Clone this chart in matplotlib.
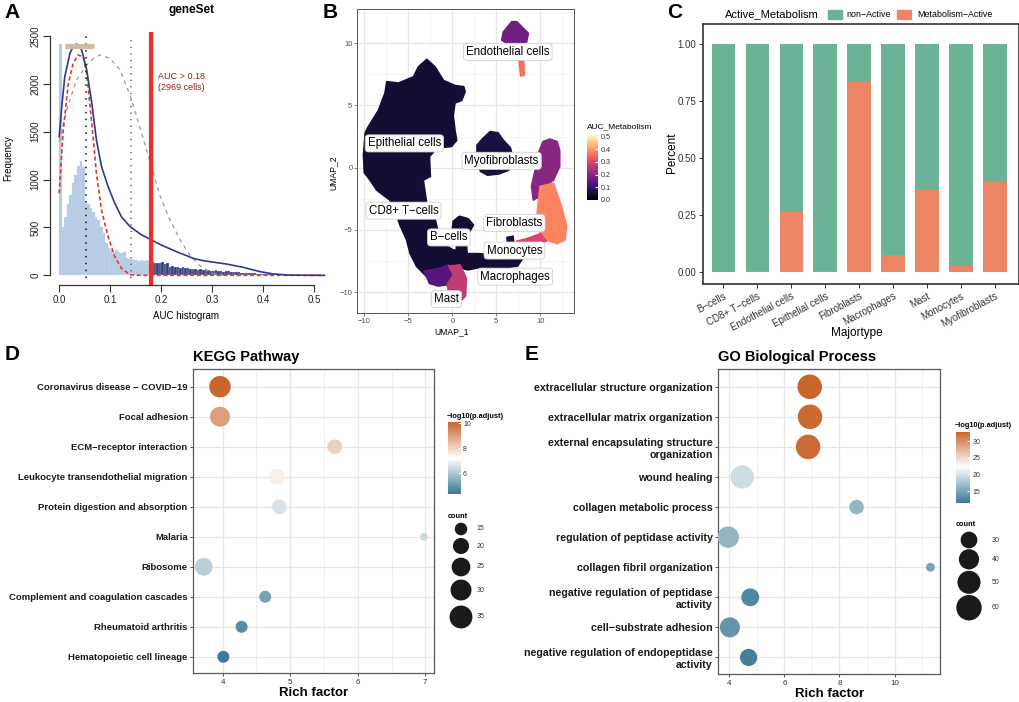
import numpy as np
import matplotlib
matplotlib.use("Agg")
import matplotlib.pyplot as plt
from matplotlib.colors import LinearSegmentedColormap, Normalize
from matplotlib.patches import Polygon, Rectangle
from matplotlib.cm import ScalarMappable

plt.rcParams.update({"font.family": ["Liberation Sans", "DejaVu Sans"]})

W, H = 1020, 702

# ---------------- data: A (AUC histogram) ----------------
auc_bin_width = 0.005
auc_counts = [2420, 505, 610, 750, 840, 960, 1050, 1140, 1190, 1130,
              760, 750, 700, 665, 612, 575, 508, 438, 335, 282,
              264, 247, 262, 247, 230, 245, 177, 167, 175, 165,
              160, 153, 155, 152, 155, 150, 140, 132, 125, 132,
              135, 118, 125, 92, 97, 85, 90, 80, 83, 73,
              73, 66, 62, 62, 60, 62, 60, 56, 55, 49,
              50, 55, 45, 48, 38, 42, 41, 38, 31, 35,
              31, 28, 28, 24, 21, 21, 20, 18, 17, 15,
              14, 12, 11, 10, 8, 7, 6, 5, 5, 4,
              3, 3, 3, 2, 2, 2, 2, 1, 1, 1,
              1, 1, 1, 1]
auc_threshold = 0.18
auc_cells = 2969
blue_x = [0, 0.005, 0.011, 0.021, 0.028, 0.034, 0.039, 0.044, 0.054, 0.064, 0.073, 0.083,
          0.096, 0.109, 0.122, 0.139, 0.162, 0.188, 0.2, 0.23, 0.263, 0.282, 0.328,
          0.361, 0.394, 0.42, 0.45, 0.48, 0.52]
blue_y = [1448, 1761, 2075, 2319, 2395, 2416, 2400, 2354, 2145, 1797, 1414, 1135,
          926, 752, 612, 508, 421, 351, 317, 247, 177, 153, 118,
          83, 38, 14, 3, 1, 0]
red_x = [0, 0.008, 0.018, 0.0275, 0.037, 0.047, 0.054, 0.06, 0.067, 0.073, 0.083,
         0.096, 0.109, 0.122, 0.139, 0.16, 0.25, 0.35, 0.45, 0.52]
red_y = [857, 1518, 2006, 2215, 2302, 2284, 2110, 1797, 1414, 1065, 682,
         403, 194, 73, 5, 0, 0, 0, 0, 0]
grey_x = [0, 0.0145, 0.034, 0.054, 0.068, 0.08, 0.099, 0.119, 0.139, 0.158, 0.178,
          0.197, 0.217, 0.237, 0.256, 0.276, 0.295, 0.31, 0.33]
grey_y = [1400, 1727, 2040, 2197, 2270, 2302, 2267, 2150, 1880, 1550, 1190,
          840, 580, 370, 210, 100, 35, 5, 0]
dotted_x = [0.052, 0.14]
tan_range = [0.012, 0.069]
tan_level = 2395

# ---------------- data: B (UMAP outlines, AUC per region) ----------------
umap_epithelial = [(-2.9, 8.7), (-1.97, 8.1), (-1.0, 7.0), (0.3, 6.6), (1.3, 6.5), (1.45, 6.1),
                   (1.07, 5.4), (0.3, 5.2), (0.1, 4.2), (0.3, 3.0), (0.5, 2.2), (-0.1, 1.7),
                   (-1.7, 1.6), (-2.6, 0.9), (-2.5, -0.7), (-3.3, -1.0), (-2.9, -2.9),
                   (-2.0, -4.0), (-1.6, -5.2), (-0.6, -6.3), (0.3, -6.7), (0.6, -7.6),
                   (0.2, -8.4), (-1.0, -8.6), (-2.0, -8.9), (-2.9, -8.75), (-4.05, -7.94),
                   (-4.8, -6.9), (-5.2, -5.8), (-5.9, -4.7), (-6.3, -3.9), (-7.1, -2.6),
                   (-8.6, -1.8), (-9.35, -1.0), (-10.0, -0.4), (-10.1, 1.0), (-9.9, 2.8),
                   (-9.55, 3.3), (-8.4, 4.6), (-7.65, 6.0), (-7.45, 6.9), (-6.1, 6.8),
                   (-4.4, 7.3), (-3.86, 8.1)]
umap_macrophages = [(0.2, -6.6), (1.5, -6.9), (2.8, -6.9), (5.0, -7.0), (7.0, -6.8), (8.1, -7.2),
                    (7.4, -7.9), (5.4, -8.1), (3.2, -8.0), (1.8, -8.2), (0.6, -8.0)]
umap_bcells = [(0.1, -4.3), (0.8, -3.9), (1.8, -4.1), (2.4, -4.6), (1.9, -5.2), (1.3, -5.4),
               (1.6, -6.2), (1.7, -7.0), (0.4, -7.0), (0.5, -6.0), (0.6, -5.3), (0.0, -4.9)]
umap_mast_left = [(-3.2, -8.3), (-1.6, -8.1), (-0.4, -7.8), (0.2, -8.6), (-0.6, -9.4),
                  (-1.6, -9.5), (-2.6, -9.3)]
umap_mast_right = [(-0.4, -7.9), (0.9, -7.8), (1.6, -8.9), (1.5, -10.3), (0.7, -10.9),
                   (-0.2, -10.5), (-0.6, -9.4), (0.1, -8.6)]
umap_myofibroblasts = [(2.8, 1.8), (3.4, 2.3), (4.3, 2.9), (5.2, 2.8), (5.8, 2.2), (6.6, 1.6),
                       (6.9, 0.7), (6.4, -0.2), (5.3, -0.5), (4.0, -0.6), (3.2, -0.3), (2.8, 0.5)]
umap_fibro_upper = [(11.1, 2.3), (10.3, 2.1), (9.8, 1.2), (9.4, -0.2), (9.0, -1.5), (9.2, -2.6),
                    (9.97, -2.3), (10.5, -1.5), (11.5, -1.0), (12.2, 0.1), (12.2, 1.4), (11.9, 2.1)]
umap_fibro_lower = [(9.97, -1.5), (11.5, -1.25), (12.4, -3.1), (13.0, -4.7), (12.8, -5.8),
                    (11.9, -6.1), (10.7, -5.8), (10.0, -5.3), (9.6, -3.9), (9.8, -2.6)]
umap_fibro_tail = [(10.0, -5.3), (8.45, -5.7), (7.3, -5.9), (7.5, -6.2), (8.8, -6.2), (10.7, -5.9)]
umap_endothelial = [(5.8, 10.9), (6.75, 11.72), (7.32, 11.72), (7.89, 11.32), (8.64, 10.79),
                    (8.45, 10.11), (7.5, 9.85), (6.18, 9.98), (5.61, 10.25)]
umap_endo_tail = [(7.5, 9.0), (8.07, 9.0), (8.18, 7.44), (7.77, 7.36)]
umap_monocytes = [(6.2, -5.6), (6.9, -5.5), (7.0, -6.1), (6.3, -6.2)]
umap_regions = [umap_epithelial, umap_macrophages, umap_bcells, umap_mast_left, umap_mast_right,
                umap_myofibroblasts, umap_fibro_upper, umap_fibro_lower, umap_fibro_tail,
                umap_endothelial, umap_endo_tail, umap_monocytes]
umap_region_auc = [0.05, 0.05, 0.05, 0.14, 0.27, 0.06, 0.20, 0.38, 0.30, 0.17, 0.36, 0.06]
umap_label_names = ["Endothelial cells", "Epithelial cells", "Myofibroblasts", "CD8+ T\u2212cells",
                    "Fibroblasts", "B\u2212cells", "Monocytes", "Macrophages", "Mast"]
umap_label_x = [6.3, -5.45, 5.6, -5.55, 7.05, -0.4, 7.05, 7.15, -0.65]
umap_label_y = [9.3, 1.95, 0.55, -3.45, -4.45, -5.6, -6.65, -8.75, -10.55]

# ---------------- data: C (stacked proportions) ----------------
majortypes = ["B\u2212cells", "CD8+ T\u2212cells", "Endothelial cells", "Epithelial cells", "Fibroblasts",
              "Macrophages", "Mast", "Monocytes", "Myofibroblasts"]
active_frac = [0.0, 0.003, 0.262, 0.005, 0.836, 0.072, 0.358, 0.026, 0.399]

# ---------------- data: D (KEGG) ----------------
kegg_terms = ["Coronavirus disease \u2212 COVID\u221219", "Focal adhesion", "ECM\u2212receptor interaction",
              "Leukocyte transendothelial migration", "Protein digestion and absorption", "Malaria",
              "Ribosome", "Complement and coagulation cascades", "Rheumatoid arthritis",
              "Hematopoietic cell lineage"]
kegg_rich = [3.96, 3.96, 5.66, 4.80, 4.84, 6.98, 3.72, 4.63, 4.28, 4.01]
kegg_count = [35, 31, 20, 22, 20, 12, 26, 16, 16, 16]
kegg_logp = [10.1, 9.0, 8.1, 7.5, 6.6, 6.4, 6.2, 5.2, 4.8, 4.4]
kegg_count_legend = [15, 20, 25, 30, 35]

# ---------------- data: E (GO BP) ----------------
go_terms = ["extracellular structure organization", "extracellular matrix organization",
            "external encapsulating structure\norganization", "wound healing",
            "collagen metabolic process", "regulation of peptidase activity",
            "collagen fibril organization", "negative regulation of peptidase\nactivity",
            "cell\u2212substrate adhesion", "negative regulation of endopeptidase\nactivity"]
go_rich = [6.92, 6.93, 6.86, 4.47, 8.62, 3.96, 11.3, 4.76, 4.02, 4.70]
go_count = [62, 62, 62, 57, 28, 49, 19, 37, 44, 35]
go_logp = [33.0, 32.6, 32.4, 19.5, 16.3, 16.2, 14.8, 12.6, 13.6, 11.9]
go_count_legend = [30, 40, 50, 60]

fig = plt.figure(figsize=(W / 100, H / 100), dpi=100)


def box(l, t, r, b):
    return [l / W, 1 - b / H, (r - l) / W, (b - t) / H]


def fx(px): return px / W
def fy(py): return 1 - py / H


for lab, px, py in [("A", 12, 13), ("B", 330, 13), ("C", 675, 12), ("D", 12, 355), ("E", 532, 355)]:
    fig.text(fx(px), fy(py), lab, fontsize=15, fontweight="bold", ha="center", va="center")

# ================= A =================
axA = fig.add_axes(box(50, 32.2, 334.7, 284.9))
edges = np.arange(len(auc_counts)) * auc_bin_width
cols = ["#2D3F7C" if e >= auc_threshold - 1e-9 else "#B6CAE4" for e in edges]
axA.bar(edges, auc_counts, width=auc_bin_width, align="edge", color=cols,
        edgecolor="#CFDBEC", linewidth=0.2)
axA.plot(grey_x, grey_y, color="#9A9A9A", lw=0.9, ls=(0, (3.2, 3.2)))
axA.plot(red_x, red_y, color="#E8342A", lw=1.2, ls=(0, (2.4, 1.6)))
axA.plot(blue_x, blue_y, color="#2E3A8C", lw=1.2)
axA.vlines(dotted_x[0], -30, 2510, colors="#1F3320", lw=1.3, linestyles=(0, (0.8, 3.0)))
axA.vlines(dotted_x[1], -30, 2510, colors="#555555", lw=1.1, linestyles=(0, (0.8, 3.5)))
axA.axvline(auc_threshold, color="#EE2B24", lw=3.0)
axA.plot(tan_range, [tan_level, tan_level], color="#D8B6A6", lw=3.8, solid_capstyle="butt")
axA.text(auc_threshold + 0.014, 2020, f"AUC > {auc_threshold}\n({auc_cells} cells)",
         color="#8E1F1F", fontsize=6.5, va="center", ha="left", linespacing=1.3)
axA.set_xlim(-0.018, 0.54)
axA.set_ylim(-100, 2540)
for s in ["top", "right"]:
    axA.spines[s].set_visible(False)
axA.spines["left"].set_bounds(0, 2500)
axA.spines["bottom"].set_bounds(0, 0.5)
for s in ["left", "bottom"]:
    axA.spines[s].set_color("#333333")
    axA.spines[s].set_linewidth(0.9)
axA.set_xticks([0, 0.1, 0.2, 0.3, 0.4, 0.5])
axA.set_xticklabels(["0.0", "0.1", "0.2", "0.3", "0.4", "0.5"])
axA.set_yticks([0, 500, 1000, 1500, 2000, 2500])
axA.tick_params(labelsize=7, length=5, width=0.8, color="#333333", labelcolor="#222222", pad=2)
plt.setp(axA.get_yticklabels(), rotation=90, va="center")
fig.text(fx(191.7), fy(10), "geneSet", fontsize=8.5, fontweight="bold", ha="center", va="center")
fig.text(fx(8.5), fy(158), "Frequency", fontsize=7, rotation=90, ha="center", va="center")
fig.text(fx(186), fy(316), "AUC histogram", fontsize=7, ha="center", va="center")

# ================= B =================
axB = fig.add_axes(box(357.3, 9, 574.3, 313.3))
magma = plt.get_cmap("magma")
auc_norm = Normalize(0, 0.513)
for reg, v in zip(umap_regions, umap_region_auc):
    c = magma(auc_norm(v))
    axB.add_patch(Polygon(reg, closed=True, facecolor=c, edgecolor=c, lw=1.2, joinstyle="round", zorder=2))
for name, x, y in zip(umap_label_names, umap_label_x, umap_label_y):
    axB.text(x, y, name, fontsize=8.3, ha="center", va="center", zorder=5,
             bbox=dict(boxstyle="round,pad=0.22,rounding_size=0.3", fc="white", ec="#D0D0D0", lw=0.6))
axB.set_xlim(-10.8, 13.86)
axB.set_ylim(-11.69, 12.74)
axB.set_xticks([-10, -5, 0, 5, 10])
axB.set_yticks([-10, -5, 0, 5, 10])
axB.set_xticks([-7.5, -2.5, 2.5, 7.5, 12.5], minor=True)
axB.set_yticks([-7.5, -2.5, 2.5, 7.5, 12.5], minor=True)
axB.grid(True, which="major", color="#E6E6E6", lw=0.9, zorder=0)
axB.grid(True, which="minor", color="#F1F1F1", lw=0.5, zorder=0)
axB.set_axisbelow(True)
axB.tick_params(which="major", labelsize=5.5, length=2, width=0.5, color="#555555", labelcolor="#4D4D4D", pad=1.5)
axB.tick_params(which="minor", length=0)
for s in axB.spines.values():
    s.set_color("#555555")
    s.set_linewidth(0.7)
fig.text(fx(452), fy(332), "UMAP_1", fontsize=6.2, ha="center", va="center")
fig.text(fx(333.5), fy(173), "UMAP_2", fontsize=6.2, rotation=90, ha="center", va="center")
caxB = fig.add_axes(box(587.3, 135, 598.3, 200))
cbB = fig.colorbar(ScalarMappable(auc_norm, magma), cax=caxB)
cbB.outline.set_visible(False)
cbB.set_ticks([0, 0.1, 0.2, 0.3, 0.4, 0.5])
caxB.tick_params(labelsize=5.2, length=2, color="white", direction="in", pad=1.5, labelcolor="#333333")
fig.text(fx(587.3), fy(126.7), "AUC_Metabolism", fontsize=6, ha="left", va="center")

# ================= C =================
GREEN, SALMON = "#6CB395", "#EE8466"
axC = fig.add_axes(box(703.3, 24, 1019, 284))
xc = np.arange(1, len(majortypes) + 1)
nonactive = [1 - a for a in active_frac]
axC.bar(xc, active_frac, width=0.69, color=SALMON)
axC.bar(xc, nonactive, bottom=active_frac, width=0.69, color=GREEN)
axC.set_xlim(0.41, 9.71)
axC.set_ylim(-0.054, 1.089)
axC.set_yticks([0, 0.25, 0.5, 0.75, 1.0])
axC.set_yticklabels(["0.00", "0.25", "0.50", "0.75", "1.00"])
axC.set_xticks(xc)
axC.set_xticklabels(majortypes, rotation=28, ha="right", rotation_mode="anchor")
axC.tick_params(labelsize=7, length=3, width=0.7, color="#333333", labelcolor="#333333", pad=2)
for s in axC.spines.values():
    s.set_color("#333333")
    s.set_linewidth(1.2)
fig.text(fx(672), fy(153), "Percent", fontsize=8.5, rotation=90, ha="center", va="center")
fig.text(fx(857), fy(333), "Majortype", fontsize=8.5, ha="center", va="center")
fig.text(fx(725), fy(14.5), "Active_Metabolism", fontsize=8, ha="left", va="center")
fig.add_artist(Rectangle((fx(828), fy(19)), 14 / W, 9 / H, transform=fig.transFigure, color=GREEN))
fig.text(fx(846.5), fy(14.5), "non\u2212Active", fontsize=6.4, ha="left", va="center")
fig.add_artist(Rectangle((fx(897), fy(19)), 14 / W, 9 / H, transform=fig.transFigure, color=SALMON))
fig.text(fx(917.5), fy(14.5), "Metabolism\u2212Active", fontsize=6.4, ha="left", va="center")


# ================= D / E =================
def grad_cmap(vmin, vmid, vmax):
    f = (vmid - vmin) / (vmax - vmin)
    return LinearSegmentedColormap.from_list("rb", [(0, "#3A7893"), (f, "#FFFFFF"), (1, "#C8662C")])


def diam_px(c, cmin, cmax, dmin, dmax):
    c = np.clip(np.asarray(c, float), cmin, cmax)
    return dmin + (dmax - dmin) * np.sqrt((c - cmin) / (cmax - cmin))


def dot_panel(rect, terms, rich, counts, logp, xlim, xt, xminor, title, norm, cmap, sz, fs):
    ax = fig.add_axes(rect)
    y = np.arange(len(terms))
    d = diam_px(counts, *sz)
    ax.scatter(rich, y, s=(d * 0.72) ** 2, c=logp, cmap=cmap, norm=norm, edgecolors="none", zorder=3)
    ax.set_xlim(*xlim)
    ax.set_ylim(len(terms) - 0.45, -0.59)
    ax.set_yticks(y)
    ax.set_yticklabels(terms, fontweight="bold", fontsize=fs, color="#1A1A1A", linespacing=1.2)
    ax.set_xticks(xt)
    ax.set_xticks(xminor, minor=True)
    ax.grid(True, which="major", color="#ECE3E3", lw=0.9, zorder=0)
    ax.grid(True, which="minor", axis="x", color="#F1EBEB", lw=0.6, zorder=0)
    ax.set_axisbelow(True)
    ax.tick_params(axis="y", length=2.5, width=0.6, color="#333333", pad=1.5)
    ax.tick_params(axis="x", which="major", length=2.5, width=0.6, color="#333333",
                   labelsize=5.8, labelcolor="#333333", pad=1.5)
    ax.tick_params(which="minor", length=0)
    for s in ax.spines.values():
        s.set_color("#595959")
        s.set_linewidth(0.9)
    ax.set_title(title, loc="left", fontsize=10.5, fontweight="bold", pad=6)
    ax.set_xlabel("Rich factor", fontsize=9.5, fontweight="bold", labelpad=1)
    return ax


def legends(cb_rect, cb_ticks, norm, cmap, title_xy, count_xy, count_vals, ys, lab_x, sz):
    fig.text(fx(title_xy[0]), fy(title_xy[1]), "\u2212log10(p.adjust)", fontsize=5.3,
             fontweight="bold", ha="left", va="center")
    cax = fig.add_axes(cb_rect)
    cb = fig.colorbar(ScalarMappable(norm, cmap), cax=cax)
    cb.outline.set_visible(False)
    cb.set_ticks(cb_ticks)
    cax.tick_params(labelsize=5, length=2.5, color="white", direction="in", pad=1.5, labelcolor="#333333")
    fig.text(fx(count_xy[0]), fy(count_xy[1]), "count", fontsize=5.3, fontweight="bold",
             ha="left", va="center")
    d = diam_px(count_vals, *sz)
    cx = count_xy[0] + 13.5
    fig.axes[0].scatter([fx(cx)] * len(ys), [fy(v) for v in ys], s=(d * 0.72) ** 2, color="#1A1A1A",
                        transform=fig.transFigure, clip_on=False, zorder=10)
    for v, yy in zip(count_vals, ys):
        fig.text(fx(lab_x), fy(yy), str(v), fontsize=5, ha="left", va="center", color="#333333")


normD = Normalize(4.34, 10.1)
cmapD = grad_cmap(4.34, 7.2, 10.1)
szD = (11, 35, 4.0, 21.5)
dot_panel(box(193.3, 369, 434.3, 673.3), kegg_terms, kegg_rich, kegg_count, kegg_logp,
          (3.565, 7.133), [4, 5, 6, 7], [4.5, 5.5, 6.5], "KEGG Pathway", normD, cmapD, szD, 6.8)
legends(box(448, 422, 461, 494), [6, 8, 10], normD, cmapD, (447, 416), (447.5, 516),
        kegg_count_legend, [529, 546, 567, 590, 617], 476.5, szD)

normE = Normalize(11.3, 32.9)
cmapE = grad_cmap(11.3, 22.3, 32.9)
szE = (17, 62, 4.7, 24.5)
dot_panel(box(718.3, 369, 940.3, 674), go_terms, go_rich, go_count, go_logp,
          (3.6, 11.66), [4, 6, 8, 10], [5, 7, 9, 11], "GO Biological Process", normE, cmapE, szE, 7.7)
legends(box(955.7, 431.7, 970.3, 503.3), [15, 20, 25, 30], normE, cmapE, (955, 425.3), (955.5, 525),
        go_count_legend, [540, 559.3, 582.3, 607.7], 991.5, szE)

fig.savefig("out.png", dpi=100)
